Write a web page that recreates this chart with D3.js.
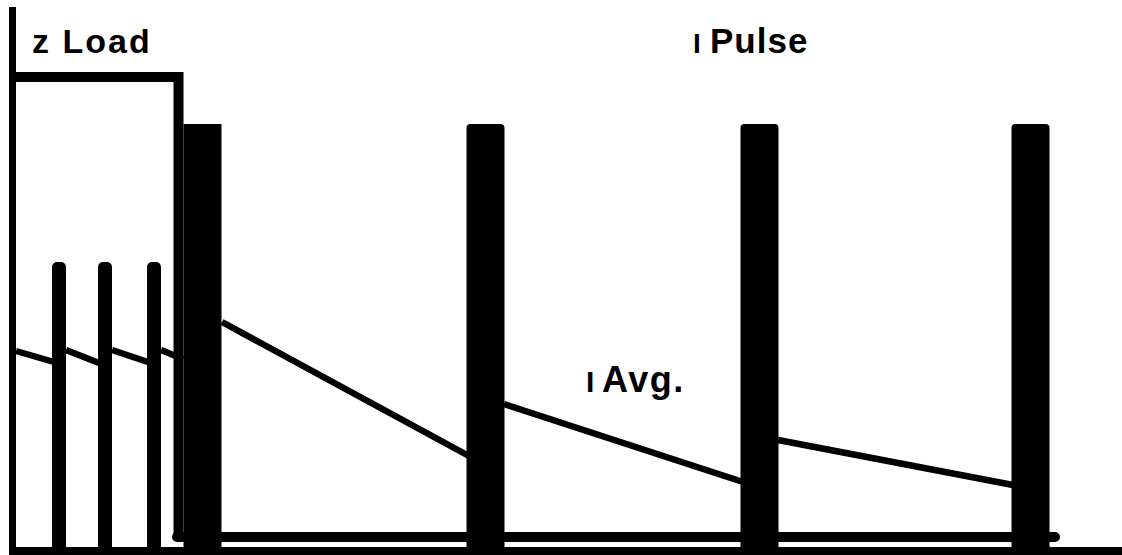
<!DOCTYPE html>
<html>
<head>
<meta charset="utf-8">
<script src="https://cdn.jsdelivr.net/npm/d3@7"></script>
<style>
  html, body { margin: 0; padding: 0; background: #fff; }
  svg { display: block; }
  text { font-family: "Liberation Sans", Arial, sans-serif; font-weight: bold; fill: #000; }
</style>
</head>
<body>
<svg id="chart" width="1122" height="555"></svg>
<script>
// ---- data (time in arbitrary units, amplitude in % of full scale) ----
const smallPulseTimes = [5.9, 10.5, 15.4];
const smallPulseLevel = 57.8;
const bigPulseTimes = [20.25, 48.55, 75.95, 103.05];
const bigPulseLevel = 85.4;
const zLoadLevel = 94.8;
const zLoadEnd = 17.85;
const pulseBaseLevel = 2.8;
const pulseBaseRange = [17.7, 105.5];
const axisTop = 108.8;
// average current segments: start (t, v) and end (t, v)
const avgSegStartT = [1.6, 6.6, 11.2, 16.1, 22.2, 50.4, 77.8];
const avgSegStartV = [40.0, 40.2, 40.2, 40.2, 45.8, 29.4, 22.2];
const avgSegEndT   = [5.4, 9.9, 14.8, 18.3, 46.9, 74.3, 101.3];
const avgSegEndV   = [37.8, 37.6, 37.8, 38.4, 19.0, 13.8, 13.2];
const labels = ["z Load", "I", "Pulse", "I", "Avg."];

// ---- scales ----
const W = 1122, H = 555;
const x = d3.scaleLinear().domain([0, 112.2]).range([0, 1122]);
const y = d3.scaleLinear().domain([0, 100]).range([551, 51]);

const svg = d3.select("#chart");

// average current line (drawn first, pulses cover its ends)
const segs = avgSegStartT.map((t, i) => ({t0: t, v0: avgSegStartV[i], t1: avgSegEndT[i], v1: avgSegEndV[i]}));
svg.append("g").selectAll("line").data(segs).join("line")
  .attr("x1", d => x(d.t0)).attr("y1", d => y(d.v0))
  .attr("x2", d => x(d.t1)).attr("y2", d => y(d.v1))
  .attr("stroke", "#000").attr("stroke-width", 6.5);

// pulse-train baseline
svg.append("line")
  .attr("x1", x(pulseBaseRange[0])).attr("x2", x(pulseBaseRange[1]))
  .attr("y1", y(pulseBaseLevel)).attr("y2", y(pulseBaseLevel))
  .attr("stroke", "#000").attr("stroke-width", 10).attr("stroke-linecap", "round");

// z Load step
svg.append("path")
  .attr("d", d3.line()([[x(1.25), y(zLoadLevel)], [x(zLoadEnd), y(zLoadLevel)], [x(zLoadEnd), y(pulseBaseLevel)]]))
  .attr("fill", "none").attr("stroke", "#000").attr("stroke-width", 10)
  .attr("stroke-linejoin", "miter");

// small pulses
const smallW = 14;
svg.append("g").selectAll("rect").data(smallPulseTimes).join("rect")
  .attr("x", d => x(d) - smallW / 2).attr("width", smallW)
  .attr("y", y(smallPulseLevel)).attr("height", H + 10 - y(smallPulseLevel))
  .attr("rx", 5).attr("fill", "#000");

// big pulses
const bigW = 38;
svg.append("g").selectAll("rect").data(bigPulseTimes).join("rect")
  .attr("x", d => x(d) - bigW / 2).attr("width", bigW)
  .attr("y", y(bigPulseLevel)).attr("height", H + 10 - y(bigPulseLevel))
  .attr("rx", (d, i) => i === 0 ? 0 : 4).attr("fill", "#000");

// axes (left vertical and bottom horizontal)
svg.append("line")
  .attr("x1", x(1.25)).attr("x2", x(1.25))
  .attr("y1", y(axisTop)).attr("y2", H)
  .attr("stroke", "#000").attr("stroke-width", 7);
svg.append("line")
  .attr("x1", x(0.9)).attr("x2", W)
  .attr("y1", y(0)).attr("y2", y(0))
  .attr("stroke", "#000").attr("stroke-width", 8);

// labels
svg.append("text").attr("x", 32).attr("y", 53).attr("font-size", 34).attr("letter-spacing", 2).text(labels[0]);
svg.append("text").attr("x", 693).attr("y", 53).attr("font-size", 28).text(labels[1]);
svg.append("text").attr("x", 710).attr("y", 53).attr("font-size", 35).attr("letter-spacing", 1).text(labels[2]);
svg.append("text").attr("x", 586).attr("y", 392).attr("font-size", 30).text(labels[3]);
svg.append("text").attr("x", 602).attr("y", 392).attr("font-size", 36).attr("letter-spacing", 1.5).text(labels[4]);
</script>
</body>
</html>
